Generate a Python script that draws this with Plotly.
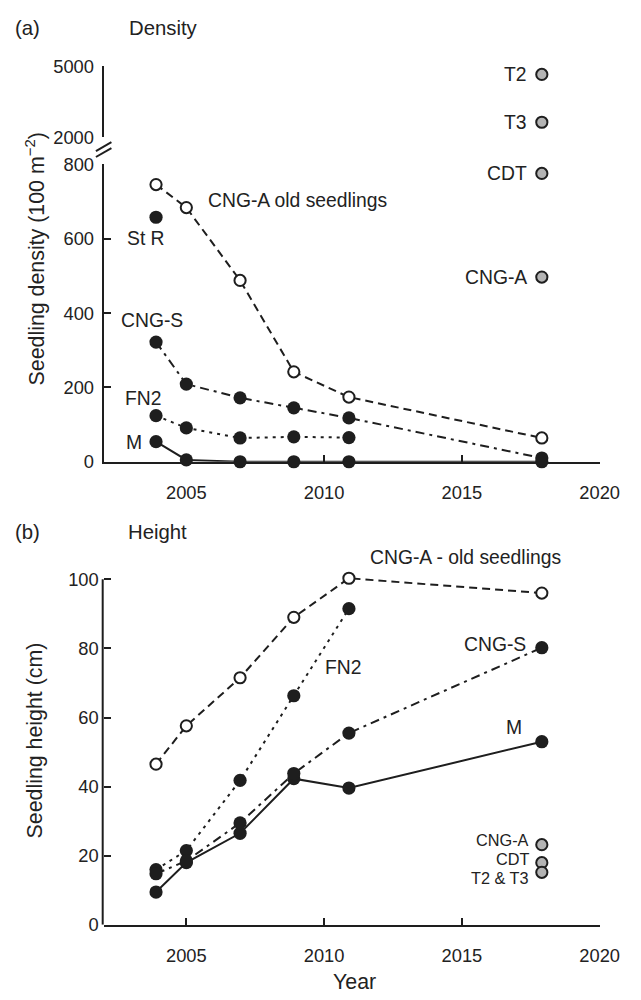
import plotly.graph_objects as go

# ---------------- data ----------------
years = [2003.9, 2005.0, 2006.95, 2008.9, 2010.9, 2017.9]
years_fn2 = [2003.9, 2005.0, 2006.95, 2008.9, 2010.9]
year_str = [2003.9]
year_ref = [2017.9]

# (a) density (100 m^-2)
dens_cnga_old = [746, 684, 488, 242, 174, 64]
dens_cngs = [322, 209, 172, 145, 118, 10]
dens_fn2 = [124, 91, 64, 67, 65]
dens_m = [54, 5, 0, 0, 0, 0]
dens_str = [658]
ref_hi_labels = ["T2", "T3"]
ref_hi_vals = [4660, 2630]
ref_lo_labels = ["CDT", "CNG-A"]
ref_lo_vals = [776, 497]

# (b) height (cm)
ht_cnga_old = [46.5, 57.6, 71.5, 89.0, 100.3, 96.0]
ht_fn2 = [16.0, 21.5, 41.8, 66.3, 91.5]
ht_cngs = [14.8, 18.5, 29.5, 43.8, 55.5, 80.2]
ht_m = [9.5, 18.0, 26.5, 42.3, 39.6, 53.0]
ref_ht_labels = ["CNG-A", "CDT", "T2 & T3"]
ref_ht_vals = [23.2, 18.0, 15.2]
ref_ht_label_y = [24.6, 19.1, 13.6]

x_ticks = [2005, 2010, 2015, 2020]
dens_ticks_lo = [0, 200, 400, 600, 800]
dens_ticks_hi = [2000, 5000]
ht_ticks = [0, 20, 40, 60, 80, 100]

# ---------------- style / layout ----------------
W, H = 641, 1000
FONT = "Liberation Sans, Arial, sans-serif"
INK = "#1e1e1e"
TXT = "#222222"
DASH = "8px,5px"
DOT = "3px,5px"
DASHDOT = "9px,5px,3px,5px"
LW = 2
SY, OY = 0.983, 8.4   # vertical page -> photo mapping observed in the viewer


def fx(x):  # target x (px) -> paper fraction
    return x / W


def fy(y):  # target photo y (px, from top) -> paper fraction
    return 1 - ((y - OY) / SY) / H


def fs(s):
    return s / SY


filled = dict(size=fs(13), color=INK, line=dict(width=0))
opened = dict(size=fs(11), color="white", line=dict(width=2, color=INK))
grey = dict(size=fs(11), color="#b4b4b4", line=dict(width=2, color=INK))

fig = go.Figure()


def add(x, y, xa, ya, marker, dash=None, mode="lines+markers"):
    fig.add_trace(go.Scatter(
        x=x, y=y, xaxis=xa, yaxis=ya, mode=mode, marker=marker,
        line=dict(color=INK, width=LW, dash=dash) if dash is not None else dict(color=INK, width=LW),
        cliponaxis=False, showlegend=False, hoverinfo="skip"))


# panel (a), lower segment
add(years, dens_m, "x", "y", filled)
add(years_fn2, dens_fn2, "x", "y", filled, DOT)
add(years, dens_cngs, "x", "y", filled, DASHDOT)
add(years, dens_cnga_old, "x", "y", opened, DASH)
add(year_str, dens_str, "x", "y", filled, mode="markers")
add(year_ref * len(ref_lo_vals), ref_lo_vals, "x", "y", grey, mode="markers")
# panel (a), upper segment
add(year_ref * len(ref_hi_vals), ref_hi_vals, "x3", "y3", grey, mode="markers")

# panel (b)
add(years, ht_m, "x2", "y2", filled)
add(years_fn2, ht_fn2, "x2", "y2", filled, DOT)
add(years, ht_cngs, "x2", "y2", filled, DASHDOT)
add(years, ht_cnga_old, "x2", "y2", opened, DASH)
add(year_ref * len(ref_ht_vals), ref_ht_vals, "x2", "y2", grey, mode="markers")

xdom = [fx(107), fx(619)]
tickfont = dict(family=FONT, size=fs(18), color=TXT)
common_x = dict(domain=xdom, range=[2002, 2020], showline=True, linecolor=INK, linewidth=2,
                ticks="inside", ticklen=7, tickwidth=2, tickcolor=INK, tickvals=x_ticks,
                showgrid=False, zeroline=False, tickfont=tickfont, ticklabelstandoff=13)
common_y = dict(linecolor=INK, linewidth=2, ticks="inside", ticklen=7,
                tickwidth=2, tickcolor=INK, showgrid=False, zeroline=False,
                tickfont=tickfont, ticklabelstandoff=4)

# bottom panel: 0..100 spans 926..579 (photo px); range a bit above 100 so the top point shows
HT_TOP = 102
ht_px_per = (926 - 579) / 100

fig.update_layout(
    width=W, height=H, autosize=False,
    margin=dict(l=0, r=0, t=0, b=0),
    paper_bgcolor="white", plot_bgcolor="white",
    font=dict(family=FONT, color=TXT),
    xaxis=dict(anchor="y", **common_x),
    yaxis=dict(anchor="x", domain=[fy(461), fy(162.5)], range=[0, 800], showline=True,
               tickvals=dens_ticks_lo, **common_y),
    xaxis3=dict(anchor="y3", domain=xdom, range=[2002, 2020], visible=False),
    yaxis3=dict(anchor="x3", domain=[fy(135), fy(64)], range=[2000, 5000], showline=True,
                tickvals=dens_ticks_hi, **common_y),
    xaxis2=dict(anchor="y2", **common_x),
    yaxis2=dict(anchor="x2", domain=[fy(926), fy(579 - (HT_TOP - 100) * ht_px_per)],
                range=[0, HT_TOP], showline=False, tickvals=ht_ticks, **common_y),
)

# bottom y axis line, ending at the 100 tick
fig.add_shape(type="line", xref="paper", yref="y2", x0=xdom[0] - 1 / W, x1=xdom[0] - 1 / W,
              y0=0, y1=100, line=dict(color=INK, width=2))

# axis break marks
for off in (-3, 3):
    fig.add_shape(type="line", xref="paper", yref="paper",
                  x0=fx(99), y0=fy(152 + off), x1=fx(115), y1=fy(143 + off),
                  line=dict(color=INK, width=2))


def note(text, x, y, xa, ya, xanchor="center", yshift=0, size=19):
    fig.add_annotation(text=text, x=x, y=y, xref=xa, yref=ya, showarrow=False,
                       xanchor=xanchor, yanchor="middle", yshift=yshift,
                       font=dict(family=FONT, size=fs(size), color=TXT))


# panel (a) labels
note("CNG-A old seedlings", 2005.73, 703, "x", "y", "left")
note("St R", 2003.55, 601, "x", "y")
note("CNG-S", 2003.76, 381, "x", "y")
note("FN2", 2003.44, 169, "x", "y")
note("M", 2003.09, 51, "x", "y")
for lab, v in zip(ref_hi_labels, ref_hi_vals):
    note(lab, 2017.44, v, "x3", "y3", "right")
for lab, v in zip(ref_lo_labels, ref_lo_vals):
    note(lab, 2017.44, v, "x", "y", "right")

# panel (b) labels
note("CNG-A - old seedlings", 2011.6, 100.3, "x2", "y2", "left", yshift=fs(20))
note("FN2", 2010.72, 74.6, "x2", "y2")
note("CNG-S", 2017.4, 81, "x2", "y2", "right")
note("M", 2016.9, 57, "x2", "y2")
for lab, v in zip(ref_ht_labels, ref_ht_label_y):
    note(lab, 2017.5, v, "x2", "y2", "right", size=16)

# titles
title_font = dict(family=FONT, size=fs(20), color=TXT)
for text, x, y in [("(a)", 13, 25), ("Density", 131, 25), ("(b)", 13, 532), ("Height", 130, 532)]:
    fig.add_annotation(text=text, x=fx(x), y=fy(y), xref="paper", yref="paper",
                       showarrow=False, xanchor="left", yanchor="middle", font=title_font)

axis_title_font = dict(family=FONT, size=fs(21), color=TXT)
fig.add_annotation(text="Seedling density (100 m<sup>−2</sup>)", x=fx(36), y=fy(257),
                   xref="paper", yref="paper", showarrow=False, textangle=-90,
                   xanchor="center", yanchor="middle", font=axis_title_font)
fig.add_annotation(text="Seedling height (cm)", x=fx(36), y=fy(741),
                   xref="paper", yref="paper", showarrow=False, textangle=-90,
                   xanchor="center", yanchor="middle", font=axis_title_font)
fig.add_annotation(text="Year", x=fx(366), y=fy(983), xref="paper", yref="paper",
                   showarrow=False, xanchor="center", yanchor="middle", font=axis_title_font)

fig.write_html("out.html")
